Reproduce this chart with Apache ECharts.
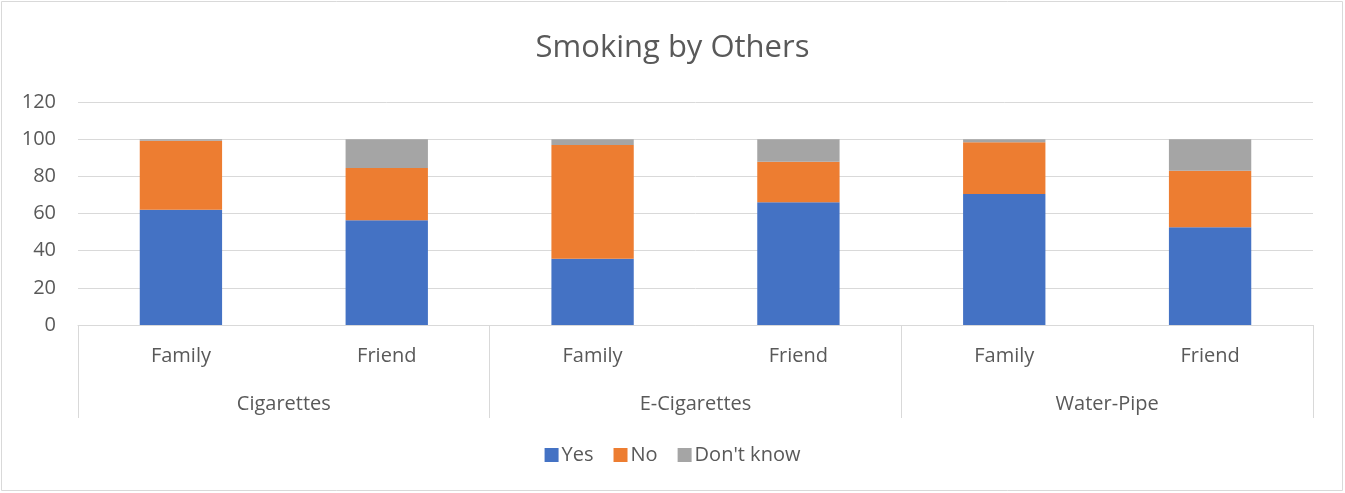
<!DOCTYPE html>
<html><head><meta charset="utf-8">
<script src="https://cdn.jsdelivr.net/npm/echarts@6/dist/echarts.min.js"></script>
<style>html,body{margin:0;padding:0;background:#fff}#c{width:1345px;height:493px}</style>
</head><body><div id="c"></div>
<script>
const categories = ['Family','Friend','Family','Friend','Family','Friend'];
const groups = ['Cigarettes','E-Cigarettes','Water-Pipe'];
const yesValues = [62, 56.4, 35.7, 66, 70.5, 52.6];
const noValues = [37.1, 28.1, 61.1, 21.8, 27.9, 30.4];
const dontKnowValues = [0.9, 15.5, 3.2, 12.2, 1.6, 17];
const seriesNames = ['Yes','No',"Don't know"];
const colors = ['#4472C4','#ED7D31','#A5A5A5'];
const font = '"Open Sans", "Liberation Sans", sans-serif';
const txt = '#595959';

const chart = echarts.init(document.getElementById('c'));
const dataSets = [yesValues, noValues, dontKnowValues];
chart.setOption({
  animation: false,
  color: colors,
  title: {text: 'Smoking by Others', left: 'center', top: 28,
    textStyle: {fontFamily: font, fontSize: 31, fontWeight: 'normal', color: txt}},
  legend: {bottom: 23, left: 'center', itemWidth: 14, itemHeight: 14, itemGap: 20,
    icon: 'rect', textStyle: {fontFamily: font, fontSize: 20, color: txt, padding: [0,0,0,-2]},
    data: seriesNames},
  grid: {left: 78, right: 32, top: 102, bottom: 168},
  xAxis: [
    {type: 'category', data: categories, position: 'bottom',
     axisLine: {lineStyle: {color: '#d9d9d9', width: 1}},
     axisTick: {show: false},
     axisLabel: {fontFamily: font, fontSize: 20, color: txt, margin: 21}},
    {type: 'category', data: groups, position: 'bottom',
     axisLine: {show: false},
     axisTick: {show: true, length: 93, lineStyle: {color: '#d9d9d9', width: 1}},
     axisLabel: {fontFamily: font, fontSize: 20, color: txt, margin: 69}}
  ],
  yAxis: {type: 'value', min: 0, max: 120, interval: 20,
    axisLine: {show: false}, axisTick: {show: false},
    splitLine: {lineStyle: {color: '#d9d9d9', width: 1}},
    axisLabel: {fontFamily: font, fontSize: 20, color: txt, margin: 22}},
  series: seriesNames.map((n, i) => ({
    name: n, type: 'bar', stack: 'total', barWidth: '40%', xAxisIndex: 0,
    data: dataSets[i]
  })),
  graphic: [{type: 'rect', shape: {x: 1.5, y: 1.5, width: 1341, height: 489},
    style: {fill: 'none', stroke: '#d9d9d9', lineWidth: 1}, silent: true}]
});
</script></body></html>
